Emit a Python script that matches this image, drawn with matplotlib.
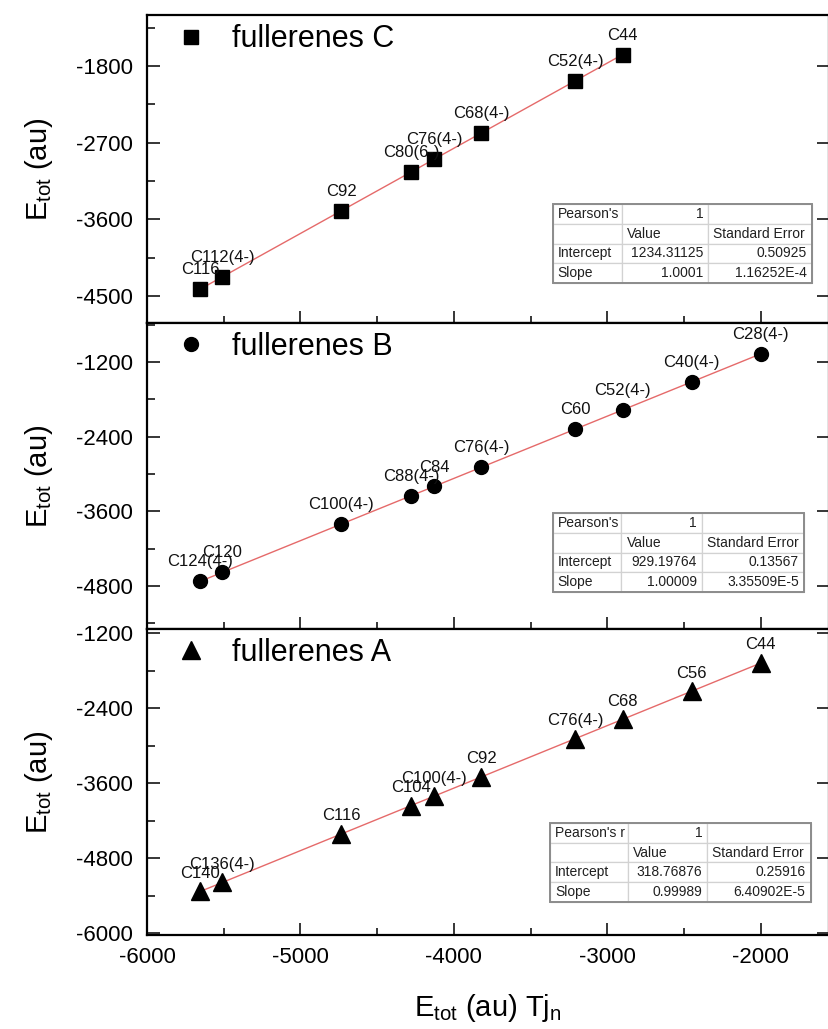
import numpy as np
import matplotlib
matplotlib.use('Agg')
from matplotlib import pyplot as plt
from matplotlib.ticker import MultipleLocator
from matplotlib.table import Table
from matplotlib.patches import Rectangle

plt.rcParams['font.family'] = ['Liberation Sans', 'DejaVu Sans']
plt.rcParams['mathtext.fontset'] = 'custom'
plt.rcParams['mathtext.rm'] = 'Liberation Sans'
plt.rcParams['mathtext.it'] = 'Liberation Sans:italic'
plt.rcParams['axes.unicode_minus'] = False

# x axis: E_tot (au) of Tj_n, same positions for every set
tjn = [-5655, -5510, -4735, -4280, -4130, -3820, -3210, -2900, -2450, -2000]

# fullerenes C (top)
namesC = ['C116', 'C112(4-)', 'C92', 'C80(6-)', 'C76(4-)', 'C68(4-)', 'C52(4-)', 'C44']
etotC = [-4421, -4273, -3503, -3047, -2897, -2590, -1980, -1672]
pearsonC = ["Pearson's", '1']
interceptC = ['1234.31125', '0.50925']
slopeC = ['1.0001', '1.16252E-4']

# fullerenes B (middle)
namesB = ['C124(4-)', 'C120', 'C100(4-)', 'C88(4-)', 'C84', 'C76(4-)', 'C60',
          'C52(4-)', 'C40(4-)', 'C28(4-)']
etotB = [-4724, -4580, -3806, -3350, -3201, -2891, -2284, -1975, -1522, -1070]
pearsonB = ["Pearson's", '1']
interceptB = ['929.19764', '0.13567']
slopeB = ['1.00009', '3.35509E-5']

# fullerenes A (bottom)
namesA = ['C140', 'C136(4-)', 'C116', 'C104', 'C100(4-)', 'C92', 'C76(4-)',
          'C68', 'C56', 'C44']
etotA = [-5334, -5190, -4415, -3960, -3810, -3500, -2890, -2580, -2130, -1680]
pearsonA = ["Pearson's r", '1']
interceptA = ['318.76876', '0.25916']
slopeA = ['0.99989', '6.40902E-5']

W, H = 829, 1029
fig = plt.figure(figsize=(W / 100, H / 100), dpi=100)


def px_axes(top, bottom, left=147, right=829):
    return fig.add_axes([left / W, 1 - bottom / H, (right - left) / W, (bottom - top) / H])


def stats_table(ax, pearson, intercept, slope, bbox, colw):
    rows = [[pearson[0], pearson[1], ''],
            ['', 'Value', 'Standard Error'],
            ['Intercept', intercept[0], intercept[1]],
            ['Slope', slope[0], slope[1]]]
    tb = Table(ax, bbox=bbox)
    tb.auto_set_font_size(False)
    tot = sum(colw)
    for r, row in enumerate(rows):
        for c, txt in enumerate(row):
            loc = 'left' if (c == 0 or r == 1) else 'right'
            cell = tb.add_cell(r, c, colw[c] / tot, 0.25, text=txt, loc=loc,
                               edgecolor='#d2d2d2', facecolor='white')
            cell.PAD = 5.0 / colw[c]
            cell.get_text().set_fontsize(10)
            cell.get_text().set_color('#202020')
            cell.set_linewidth(0.9)
    ax.add_table(tb)
    ax.add_patch(Rectangle((bbox[0], bbox[1]), bbox[2], bbox[3], transform=ax.transAxes,
                           fill=False, edgecolor='#8c8c8c', lw=1.4, zorder=6))


def panel(ax, names, etot, marker, ms, label, pearson, intercept, slope, bbox, colw, off):
    x = np.array(tjn[:len(etot)])
    xl = np.array([x.min(), x.max()])
    ax.plot(xl, float(intercept[0]) + float(slope[0]) * xl, color='#e56a6a', lw=1.0, zorder=2)
    ax.plot(x, etot, ls='none', marker=marker, ms=ms, color='black', label=label, zorder=3)
    for n, xi, yi in zip(names, x, etot):
        ax.annotate(n, (xi, yi), xytext=(0, off), textcoords='offset points',
                    ha='center', va='center', fontsize=12, color='#111111')
    stats_table(ax, pearson, intercept, slope, bbox, colw)
    ax.legend(loc='center left', bbox_to_anchor=(0.042, 0.921), frameon=False,
              fontsize=22, handlelength=1.0, handletextpad=0.85, borderpad=0,
              borderaxespad=0, numpoints=1)
    ax.set_xlim(-6000, -1555)
    ax.xaxis.set_major_locator(MultipleLocator(1000))
    ax.xaxis.set_minor_locator(MultipleLocator(500))
    ax.tick_params(which='both', direction='in', top=False, right=True, width=1.1)
    ax.tick_params(axis='y', which='major', length=9, labelsize=16, pad=10)
    ax.tick_params(axis='y', which='minor', length=5.5, right=False)
    ax.tick_params(axis='x', which='major', length=8.5, labelsize=16, pad=8.5)
    ax.tick_params(axis='x', which='minor', length=4.8)
    for s in ax.spines.values():
        s.set_linewidth(1.6)
    ax.set_ylabel(r'E$_{\mathrm{tot}}$ (au)', fontsize=21)
    ax.yaxis.set_label_coords(-0.135, 0.5)


axC = px_axes(15, 323)
axB = px_axes(323, 629)
axA = px_axes(629, 935)

panel(axC, namesC, etotC, 's', 9.5, 'fullerenes C', pearsonC, interceptC, slopeC,
      [0.595, 0.131, 0.380, 0.254], [68.7, 86.8, 103.5], 14)
axC.set_ylim(-4817, -1202)
axC.yaxis.set_major_locator(MultipleLocator(900))
axC.yaxis.set_minor_locator(MultipleLocator(450))

panel(axB, namesB, etotB, 'o', 10, 'fullerenes B', pearsonB, interceptB, slopeB,
      [0.595, 0.122, 0.368, 0.256], [68.7, 80.2, 102.2], 14)
axB.set_ylim(-5490, -575)
axB.yaxis.set_major_locator(MultipleLocator(1200))
axB.yaxis.set_minor_locator(MultipleLocator(600))

panel(axA, namesA, etotA, '^', 12.5, 'fullerenes A', pearsonA, interceptA, slopeA,
      [0.591, 0.109, 0.382, 0.256], [78.0, 79.3, 103.5], 13)
axA.set_ylim(-6030, -1136)
axA.yaxis.set_major_locator(MultipleLocator(1200))
axA.yaxis.set_minor_locator(MultipleLocator(600))

for ax in (axC, axB):
    ax.tick_params(axis='x', labelbottom=False)

axA.set_xlabel(r'E$_{\mathrm{tot}}$ (au) Tj$_{\mathrm{n}}$', fontsize=21)
axA.xaxis.set_label_coords(0.5, -0.185)

fig.savefig('out.png', dpi=100)
